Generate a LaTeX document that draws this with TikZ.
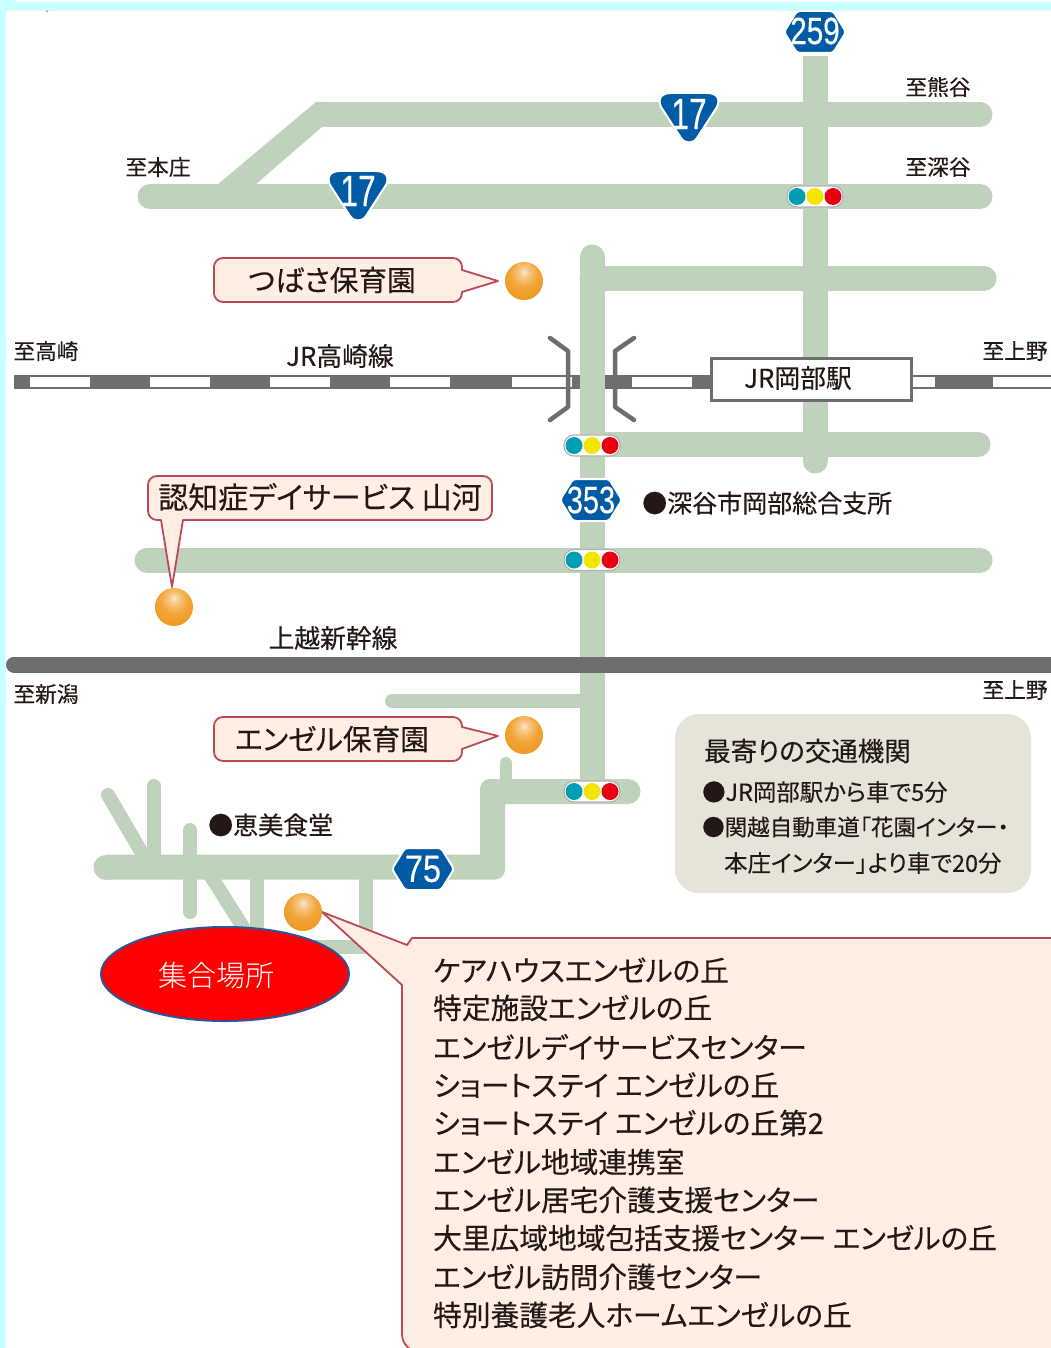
\documentclass[tikz,border=0pt]{standalone}
\usepackage{graphicx}
\usepackage{fontspec}
\setmainfont{Noto Sans CJK JP}[RawFeature=+palt,FakeBold=0.25]
\newfontfamily\thinfont{Noto Sans CJK JP}[UprightFont=* Light]
\newfontfamily\badgefont{Liberation Sans}[FakeBold=0.4]
\usetikzlibrary{shapes.geometric}
\definecolor{road}{HTML}{BED2BC}
\definecolor{rail}{HTML}{6E6E6E}
\definecolor{sky}{HTML}{C8FFFF}
\definecolor{shield}{HTML}{005BA6}
\definecolor{peach}{HTML}{FEEEE4}
\definecolor{callline}{HTML}{BC4A56}
\definecolor{infobg}{HTML}{E6E3D8}
\definecolor{ink}{HTML}{231815}
\definecolor{sigb}{HTML}{009DB5}
\definecolor{sigy}{HTML}{F5E400}
\definecolor{sigr}{HTML}{E60012}
\definecolor{balla}{HTML}{FBE9D0}
\definecolor{ballb}{HTML}{F7C98A}
\definecolor{ballc}{HTML}{F2A63A}
\definecolor{balld}{HTML}{EC9213}
\definecolor{balle}{HTML}{C9760B}
\definecolor{ballf}{HTML}{7A4500}
\pgfdeclareradialshading{orangeball}{\pgfpoint{0bp}{12bp}}{%
  color(0bp)=(balla);
  color(6bp)=(ballb);
  color(18bp)=(ballc);
  color(40bp)=(balld);
  color(52bp)=(balle);
  color(60bp)=(ballf);
  color(100bp)=(ballf)}
\tikzset{
  x=1pt,y=-1pt,
  roadw/.style={draw=road,line width=25pt,line cap=round,line join=round},
  lane/.style={draw=road,line width=14pt,line cap=round},
  callout/.style={fill=peach,draw=callline,line width=1.8pt,line join=round},
  shieldbg/.style={fill=shield,draw=white,line width=2pt,line join=round},
  hexnum/.style={inner sep=0pt,text=white,font=\badgefont\fontsize{38}{38}\selectfont},
  trinum/.style={inner sep=0pt,text=white,font=\badgefont\fontsize{44}{44}\selectfont},
  lbl/.style={inner sep=0pt,text=ink,font=\fontsize{21.7}{21.7}\selectfont},
  lblb/.style={inner sep=0pt,text=ink,font=\fontsize{25.8}{25.8}\selectfont},
  calltxt/.style={inner sep=0pt,text=ink,anchor=west,font=\fontsize{28.7}{28.7}\selectfont},
  infotxt/.style={inner sep=0pt,text=ink,anchor=west,font=\fontsize{23.4}{23.4}\selectfont},
  ball/.style={shading=orangeball},
  sigcase/.style={fill=white,draw=black!30,line width=1.2pt,rounded corners=10pt},
  bracket/.style={draw=rail,line width=4.5pt,line cap=round,line join=round}
}
\newcommand{\sigl}[2]{%
  \path[sigcase] (#1-28,#2-10.5) rectangle (#1+28,#2+10.5);
  \fill[sigb] (#1-18,#2) circle (8.5);
  \fill[sigy] (#1,#2) circle (8.5);
  \fill[sigr] (#1+18,#2) circle (8.5);
}
\newcommand{\tri}[2]{%
  \path[shieldbg] (#1-18,#2-25) -- (#1+18,#2-25)
    .. controls (#1+27,#2-25) and (#1+32,#2-20) .. (#1+28,#2-11)
    -- (#1+8,#2+20) .. controls (#1+4,#2+26) and (#1-4,#2+26) .. (#1-8,#2+20)
    -- (#1-28,#2-11) .. controls (#1-32,#2-20) and (#1-27,#2-25) .. (#1-18,#2-25) -- cycle;
}
\newcommand{\hexa}[2]{%
  \path[shieldbg,rounded corners=3pt] (#1-31,#2) -- (#1-18,#2-21) -- (#1+18,#2-21) -- (#1+31,#2) -- (#1+18,#2+21) -- (#1-18,#2+21) -- cycle;
}
\begin{document}
\begin{tikzpicture}
\useasboundingbox (0,0) rectangle (1051,1348);
\begin{scope}
\clip (0,0) rectangle (1051,1348);
\fill[white] (0,0) rectangle (1051,1348);
\fill[sky] (0,2) rectangle (1051,11);
\fill[sky] (0,0) rectangle (16,2);
\fill[sky] (0,0) rectangle (6,1348);
\fill[black!40] (47,11.5) circle (1);
% JR line
\fill[rail] (14,376) rectangle (1060,388);
\draw[rail,line width=1.2pt] (14,376) -- (1060,376) (14,388) -- (1060,388);
\foreach \a/\b in {30/90,150/210,270/330,390/450,512/572,632/692,913/935,993/1060}
  \fill[white] (\a,377) rectangle (\b,387);
% roads
\fill[road] (211,190) -- (316,102) -- (330,102) -- (330,127) -- (322,127) -- (256,184) -- (256,190) -- cycle;
\draw[roadw] (150,196.5) -- (980,196.5);
\draw[roadw,line cap=butt] (320,114.5) -- (980,114.5);
\draw[roadw] (960,114.5) -- (980,114.5);
\draw[roadw,line cap=butt] (815,56) -- (815,450);
\draw[roadw] (815,450) -- (815,461);
\draw[roadw] (592,278.5) -- (984,278.5);
\draw[roadw] (592,444.5) -- (978,444.5);
\draw[roadw] (592,257) -- (592,650);
\draw[roadw] (147,560) -- (980,560);
\draw[roadw,line cap=butt] (592,650) -- (592,780);
\draw[lane] (392,701) -- (592,701);
\fill[road] (106,854.5) -- (480,854.5) [rounded corners=10pt] -- (480,779) [sharp corners] -- (628,779) -- (628,804) -- (505,804) [rounded corners=10pt] -- (505,879.5) [sharp corners] -- (106,879.5) -- cycle;
\draw[roadw] (106,867) -- (107,867);
\draw[roadw] (628,791.5) -- (627,791.5);
\draw[draw=road,line width=12pt,line cap=round] (506,763) -- (506,785);
\draw[lane] (108,795) -- (146,860);
\draw[lane] (154,786) -- (154,860);
\draw[lane] (190,830) -- (190,912);
\draw[lane,line cap=butt] (207,870) -- (248,935);
\draw[lane,line cap=butt] (257,870) -- (257,947);
\draw[lane,line cap=butt] (366,870) -- (366,954);
\draw[lane,line cap=butt] (248,947) -- (373,947);
% Shinkansen
\draw[draw=rail,line width=16pt,line cap=round] (14,664.5) -- (1080,664.5);
% brackets
\draw[bracket] (550,338) -- (568,351) -- (568,407) -- (550,420);
\draw[bracket] (634,338) -- (615,351) -- (615,407) -- (634,420);
% station
\node[draw=rail,line width=3pt,fill=white,minimum width=200pt,minimum height=42pt,inner sep=0pt,anchor=center] (stationbox) at (811.5,379.5) {};
\node[lblb] (stationtxt) at (798,378) {JR岡部駅};
% signals
\sigl{815}{196.5}
\sigl{592}{445.5}
\sigl{592}{560}
\sigl{592}{791.5}
% shields
\hexa{815}{32}
\node[hexnum] (n259) at (815,31) {\scalebox{.78}[1]{259}};
\tri{689}{118}
\node[trinum] (n17a) at (689,114) {\scalebox{.72}[1]{17}};
\tri{358}{196}
\node[trinum] (n17b) at (358,191) {\scalebox{.72}[1]{17}};
\hexa{591}{500}
\node[hexnum] (n353) at (591,500) {\scalebox{.76}[1]{353}};
\hexa{423}{869}
\node[hexnum] (n75) at (423,869) {\scalebox{.85}[1]{75}};
% labels
\node[lbl] (kuma) at (938,87) {至熊谷};
\node[lbl] (fuka) at (938,167) {至深谷};
\node[lbl] (honj) at (158,167) {至本庄};
\node[lbl] (taka) at (46,351) {至高崎};
\node[lbl] (ueno) at (1015,351) {至上野};
\node[lbl] (niig) at (46,694) {至新潟};
\node[lbl] (uenb) at (1015,690) {至上野};
\node[lblb] (jrt) at (340,356) {JR高崎線};
\node[lblb] (shin) at (333,638) {上越新幹線};
\node[lblb,anchor=west,font=\fontsize{25}{25}\selectfont] (shis) at (642,503) {●深谷市岡部総合支所};
\node[lblb,anchor=west,font=\fontsize{25}{25}\selectfont] (emi) at (208,825) {●恵美食堂};
% callouts
\path[callout,rounded corners=9pt] (214,258) -- (462,258) [sharp corners] -- (462,270) -- (498,281) -- (462,292) [rounded corners=9pt] -- (462,302) -- (214,302) -- cycle;
\node[calltxt,anchor=center] (tsub) at (332,280) {つばさ保育園};
\path[callout,rounded corners=9pt] (148,476) -- (492,476) -- (492,520) [sharp corners] -- (183,520) -- (172,587) -- (161,520) [rounded corners=9pt] -- (148,520) -- cycle;
\node[calltxt,anchor=center,font=\fontsize{30}{30}\selectfont] (yama) at (320,497) {認知症デイサービス 山河};
\path[callout,rounded corners=9pt] (214,717) -- (462,717) [sharp corners] -- (462,727) -- (498,736) -- (462,749) [rounded corners=9pt] -- (462,761) -- (214,761) -- cycle;
\node[calltxt,anchor=center] (ange) at (332,739) {エンゼル保育園};
% meeting place
\node[ellipse,fill=red,draw={rgb,255:red,47;green,85;blue,151},line width=2pt,minimum width=248pt,minimum height=94pt,inner sep=0pt] (meet) at (225,974) {};
\node[inner sep=0pt,text=white,font=\thinfont\fontsize{29}{29}\selectfont] (meettxt) at (216,975) {集合場所};
% big callout
\path[callout] (1070,938) -- (412,938) -- (407,945) -- (322,912) -- (402,985) [rounded corners=18pt] -- (402,1352) [sharp corners] -- (1070,1352) -- cycle;
\foreach \nm/\yy/\tx in {
  ca/970/ケアハウスエンゼルの丘,
  cb/1008/特定施設エンゼルの丘,
  cc/1047/エンゼルデイサービスセンター,
  cd/1085/ショートステイ エンゼルの丘,
  ce/1123/ショートステイ エンゼルの丘第2,
  cf/1162/エンゼル地域連携室,
  cg/1200/エンゼル居宅介護支援センター,
  ch/1238/大里広域地域包括支援センター エンゼルの丘,
  ci/1277/エンゼル訪問介護センター,
  cj/1315/特別養護老人ホームエンゼルの丘}
  \node[calltxt] (\nm) at (433,\yy) {\tx};
% balls
\path[ball] (524,281) circle (19);
\path[ball] (174,607) circle (19);
\path[ball] (524,735) circle (19);
\path[ball] (303,912) circle (19);
% info
\path[fill=infobg,rounded corners=24pt] (675,714) rectangle (1031,893);
\node[infotxt,font=\fontsize{26.5}{26.5}\selectfont] (ia) at (704,751) {最寄りの交通機関};
\node[infotxt] (ib) at (702,792) {●JR岡部駅から車で5分};
\node[infotxt,font=\fontsize{22.5}{22.5}\selectfont] (ic) at (702,827) {●関越自動車道「花園インター・};
\node[infotxt] (id) at (724,863) {本庄インター」より車で20分};
\end{scope}
\end{tikzpicture}
\end{document}
